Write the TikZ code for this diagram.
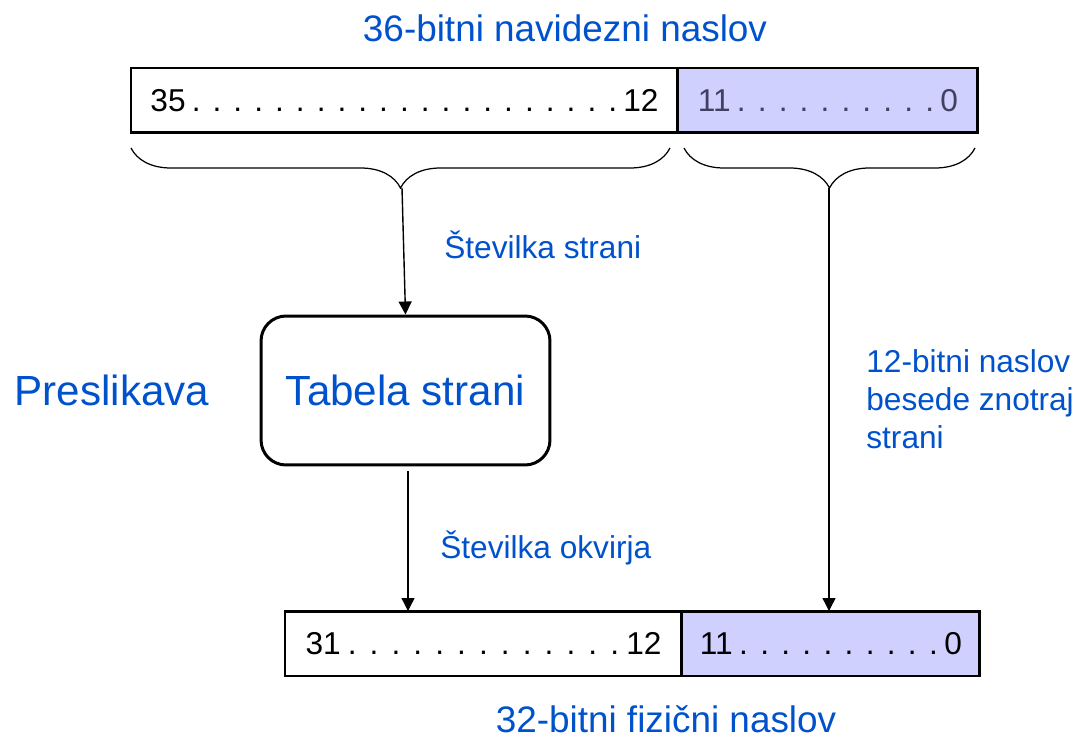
\documentclass[tikz,border=0pt]{standalone}
\usepackage{fontspec}
\setmainfont{Liberation Sans}
\usepackage{tikz}
\usetikzlibrary{arrows.meta,positioning,calc,decorations.pathreplacing}
\definecolor{vmink}{RGB}{0,82,204}
\definecolor{vmlav}{RGB}{208,208,255}
\definecolor{vmslate}{RGB}{64,64,96}
\newcommand{\bitdots}{\xleaders\hbox to 0.65em{\hss.\hss}\hfill}
\tikzset{
  fld/.style={
    draw=black, line width=1.7pt, outer sep=0pt, inner sep=0pt,
    font=\fontsize{18}{21}\selectfont, minimum height=1.3cm
  },
  off/.style={fld, fill=vmlav},
  tbl/.style={
    draw=black, line width=1.7pt, rounded corners=0.5cm,
    minimum width=5.78cm, minimum height=2.98cm, text=vmink,
    font=\fontsize{24}{28}\selectfont
  },
  lbl/.style={text=vmink, font=\fontsize{18}{21.5}\selectfont, align=left, inner sep=0pt},
  big/.style={text=vmink, font=\fontsize{21}{25}\selectfont, inner sep=0pt},
  brc/.style={decorate, decoration={brace, mirror, amplitude=0.8cm}, line width=0.7pt},
  arr/.style={-{Triangle[length=2.6mm,width=2.6mm]}, draw=black, line width=0.8pt}
}
\begin{document}
\begin{tikzpicture}[x=0.02cm, y=-0.02cm]
  \useasboundingbox (0,0) rectangle (1077,740);

  \node[big] (vtitle) at (565,28) {36-bitni navidezni naslov};
  \node[fld, minimum width=10.94cm, anchor=north west] (vpage) at (131,68)
    {\makebox[10.16cm]{35\bitdots 12}};
  \node[off, minimum width=6cm, right=0pt of vpage] (voff)
    {\makebox[5.2cm]{\color{vmslate}11\bitdots 0}};

  \draw[brc] (131,148) -- (670,148);
  \draw[brc] (684,148) -- (975,148);
  \coordinate (pgtip) at (402,188);
  \coordinate (oftip) at (829,188);

  \node[big, font=\fontsize{24}{28}\selectfont] (presl) at (112,390) {Preslikava};
  \node[tbl] (ptab) at (405.5,390.5) {Tabela strani};
  \coordinate (ptout) at (408,471);

  \node[fld, minimum width=7.94cm, anchor=north west] (pframe) at (285,611)
    {\makebox[7.12cm]{31\bitdots 12}};
  \node[off, minimum width=5.96cm, right=0pt of pframe] (poff)
    {\makebox[5.24cm]{11\bitdots 0}};
  \node[big] (ptitle) at (666,719) {32-bitni fizični naslov};

  \draw[arr] (pgtip) -- (ptab.north);
  \draw[arr] (ptout) -- (ptout |- pframe.north);
  \draw[arr] (oftip) -- (oftip |- poff.north);

  \node[lbl, anchor=west] (lpage) at (444,245) {Številka strani};
  \node[lbl, anchor=west] (lframe) at (440,548) {Številka okvirja};
  \node[lbl, anchor=west] (lofs) at (866,399) {12-bitni naslov\\besede znotraj\\strani};
\end{tikzpicture}
\end{document}
